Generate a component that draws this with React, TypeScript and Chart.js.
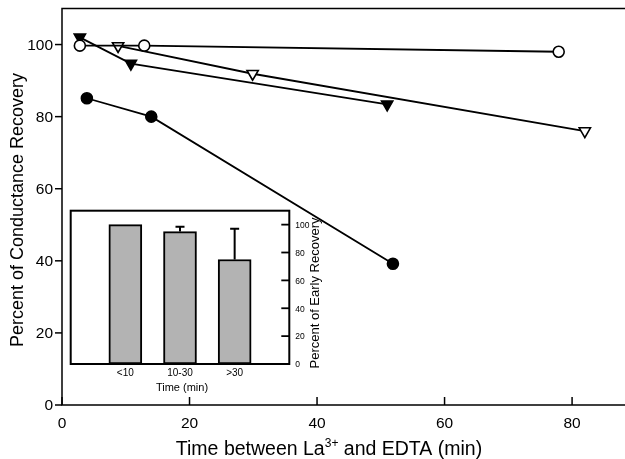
import React, { useEffect, useRef } from "react";
import { Chart, registerables } from "chart.js";
Chart.register(...registerables);

// Main plot data (Time between La3+ and EDTA, Percent of Conductance Recovery)
const openCircleX = [2.8, 12.9, 77.9];
const openCircleY = [99.7, 99.7, 98.0];
const filledTriX = [2.8, 10.8, 51.0];
const filledTriY = [102.0, 94.7, 83.4];
const openTriX = [8.8, 29.9, 82.0];
const openTriY = [99.6, 91.9, 76.0];
const filledCircleX = [3.9, 14.0, 51.9];
const filledCircleY = [85.1, 80.0, 39.2];

const xTicks = [0, 20, 40, 60, 80];
const yTicks = [0, 20, 40, 60, 80, 100];

// Inset data
const insetCategories = ["", "<10", "10-30", ">30", ""];
const insetValues = [null, 100, 95, 75, null];
const insetErrors = [0, 0, 3.5, 22, 0];
const insetTicks = [0, 20, 40, 60, 80, 100];

const FONT = "'Liberation Sans', Arial, sans-serif";

const pts = (xs: number[], ys: number[]) => xs.map((x, i) => ({ x, y: ys[i] }));

const mainAxesPlugin = {
  id: "mainAxes",
  afterDraw(chart: any) {
    const ctx = chart.ctx;
    const { left, right, top, bottom } = chart.chartArea;
    const xs = chart.scales.x;
    const ys = chart.scales.y;
    ctx.save();
    ctx.strokeStyle = "#000";
    ctx.fillStyle = "#000";
    ctx.lineWidth = 1.5;
    ctx.beginPath();
    ctx.moveTo(right, top);
    ctx.lineTo(left, top);
    ctx.lineTo(left, bottom);
    ctx.lineTo(right, bottom);
    ctx.stroke();
    ctx.font = `15.5px ${FONT}`;
    ctx.textAlign = "right";
    ctx.textBaseline = "middle";
    yTicks.forEach((v) => {
      const py = ys.getPixelForValue(v);
      ctx.beginPath();
      ctx.moveTo(left - 7, py);
      ctx.lineTo(left, py);
      ctx.stroke();
      ctx.fillText(String(v), left - 9, py + 1);
    });
    ctx.textAlign = "center";
    xTicks.forEach((v) => {
      const px = xs.getPixelForValue(v);
      ctx.beginPath();
      ctx.moveTo(px, bottom);
      ctx.lineTo(px, bottom - 8);
      ctx.stroke();
      ctx.fillText(String(v), px, bottom + 19);
    });
    // x title with superscript
    const big = `19.5px ${FONT}`;
    const small = `12px ${FONT}`;
    const p1 = "Time between La";
    const p2 = "3+";
    const p3 = " and EDTA (min)";
    ctx.font = big;
    const w1 = ctx.measureText(p1).width;
    const w3 = ctx.measureText(p3).width;
    ctx.font = small;
    const w2 = ctx.measureText(p2).width;
    const total = w1 + w2 + w3;
    let sx = 329 - total / 2;
    const by = 455;
    ctx.textAlign = "left";
    ctx.textBaseline = "alphabetic";
    ctx.font = big;
    ctx.fillText(p1, sx, by);
    sx += w1;
    ctx.font = small;
    ctx.fillText(p2, sx, by - 8);
    sx += w2;
    ctx.font = big;
    ctx.fillText(p3, sx, by);
    // y title
    ctx.save();
    ctx.translate(18, 210);
    ctx.rotate(-Math.PI / 2);
    ctx.textAlign = "center";
    ctx.textBaseline = "middle";
    ctx.font = `18px ${FONT}`;
    ctx.fillText("Percent of Conductance Recovery", 0, 0);
    ctx.restore();
    ctx.restore();
  },
};

const insetPlugin = {
  id: "insetAxes",
  afterDraw(chart: any) {
    const ctx = chart.ctx;
    const { left, right, top, bottom } = chart.chartArea;
    const xs = chart.scales.x;
    const ys = chart.scales.y;
    ctx.save();
    ctx.strokeStyle = "#000";
    ctx.fillStyle = "#000";
    ctx.lineWidth = 2;
    // error bars
    insetValues.forEach((v, i) => {
      const e = insetErrors[i];
      if (v == null || !e) return;
      const px = xs.getPixelForValue(i);
      const y0 = ys.getPixelForValue(v);
      const y1 = ys.getPixelForValue(v + e);
      ctx.beginPath();
      ctx.moveTo(px, y0);
      ctx.lineTo(px, y1);
      ctx.moveTo(px - 4.5, y1);
      ctx.lineTo(px + 4.5, y1);
      ctx.stroke();
    });
    ctx.strokeRect(left, top, right - left, bottom - top);
    ctx.font = `8.5px ${FONT}`;
    ctx.textAlign = "left";
    ctx.textBaseline = "middle";
    ctx.lineWidth = 1.8;
    insetTicks.forEach((v) => {
      const py = ys.getPixelForValue(v);
      ctx.beginPath();
      ctx.moveTo(right - 8, py);
      ctx.lineTo(right, py);
      ctx.stroke();
      ctx.fillText(String(v), right + 6, py + 1);
    });
    ctx.font = `10px ${FONT}`;
    ctx.textAlign = "center";
    insetCategories.forEach((c, i) => {
      if (!c) return;
      ctx.fillText(c, xs.getPixelForValue(i), bottom + 9);
    });
    ctx.font = `11px ${FONT}`;
    ctx.fillText("Time (min)", 122, 188);
    ctx.save();
    ctx.translate(255, 93);
    ctx.rotate(-Math.PI / 2);
    ctx.font = `13px ${FONT}`;
    ctx.fillText("Percent of Early Recovery", 0, 0);
    ctx.restore();
    ctx.restore();
  },
};

export default function App() {
  const mainRef = useRef<HTMLCanvasElement>(null);
  const insetRef = useRef<HTMLCanvasElement>(null);

  useEffect(() => {
    const hidden = {
      grid: { display: false },
      border: { display: false },
      ticks: { display: false },
    };
    const lineDs = (data: any, style: string, rot: number, fill: string, r: number) => ({
      data,
      showLine: true,
      borderColor: "#000",
      borderWidth: 1.8,
      pointStyle: style,
      pointRotation: rot,
      pointRadius: r,
      pointBackgroundColor: fill,
      pointBorderColor: "#000",
      pointBorderWidth: 1.6,
    });
    const main = new Chart(mainRef.current!, {
      type: "scatter",
      data: {
        datasets: [
          lineDs(pts(openCircleX, openCircleY), "circle", 0, "#fff", 5.5),
          lineDs(pts(openTriX, openTriY), "triangle", 180, "#fff", 6.5),
          lineDs(pts(filledTriX, filledTriY), "triangle", 180, "#000", 6.5),
          lineDs(pts(filledCircleX, filledCircleY), "circle", 0, "#000", 5.5),
        ] as any,
      },
      options: {
        animation: false,
        responsive: false,
        devicePixelRatio: 1,
        layout: { autoPadding: false, padding: { top: 8.5, right: 0, left: 0, bottom: 0 } },
        plugins: { legend: { display: false }, tooltip: { enabled: false } },
        scales: {
          x: {
            type: "linear",
            min: 0,
            max: 88.3,
            ...hidden,
            afterFit: (s: any) => {
              s.height = 54;
            },
          },
          y: {
            type: "linear",
            min: 0,
            max: 110,
            ...hidden,
            afterFit: (s: any) => {
              s.width = 62;
            },
          },
        } as any,
      },
      plugins: [mainAxesPlugin],
    });

    const inset = new Chart(insetRef.current!, {
      type: "bar",
      data: {
        labels: insetCategories,
        datasets: [
          {
            data: insetValues as any,
            backgroundColor: "#b3b3b3",
            borderColor: "#000",
            borderWidth: 2,
            borderSkipped: false,
            barThickness: 33,
          },
        ],
      },
      options: {
        animation: false,
        responsive: false,
        devicePixelRatio: 1,
        layout: { autoPadding: false, padding: { top: 10.7, left: 10.7, right: 0, bottom: 0 } },
        plugins: { legend: { display: false }, tooltip: { enabled: false } },
        scales: {
          x: {
            type: "category",
            offset: false,
            ...hidden,
            afterFit: (s: any) => {
              s.height = 36;
            },
          },
          y: {
            position: "right",
            min: 0,
            max: 110,
            ...hidden,
            afterFit: (s: any) => {
              s.width = 60.7;
            },
          },
        } as any,
      },
      plugins: [insetPlugin],
    });

    return () => {
      main.destroy();
      inset.destroy();
    };
  }, []);

  return (
    <div style={{ position: "absolute", left: 0, top: 0, width: 625, height: 459, background: "#fff" }}>
      <canvas ref={mainRef} width={625} height={459} style={{ position: "absolute", left: 0, top: 0, display: "block" }} />
      <canvas ref={insetRef} width={290} height={200} style={{ position: "absolute", left: 60, top: 200, display: "block" }} />
    </div>
  );
}
